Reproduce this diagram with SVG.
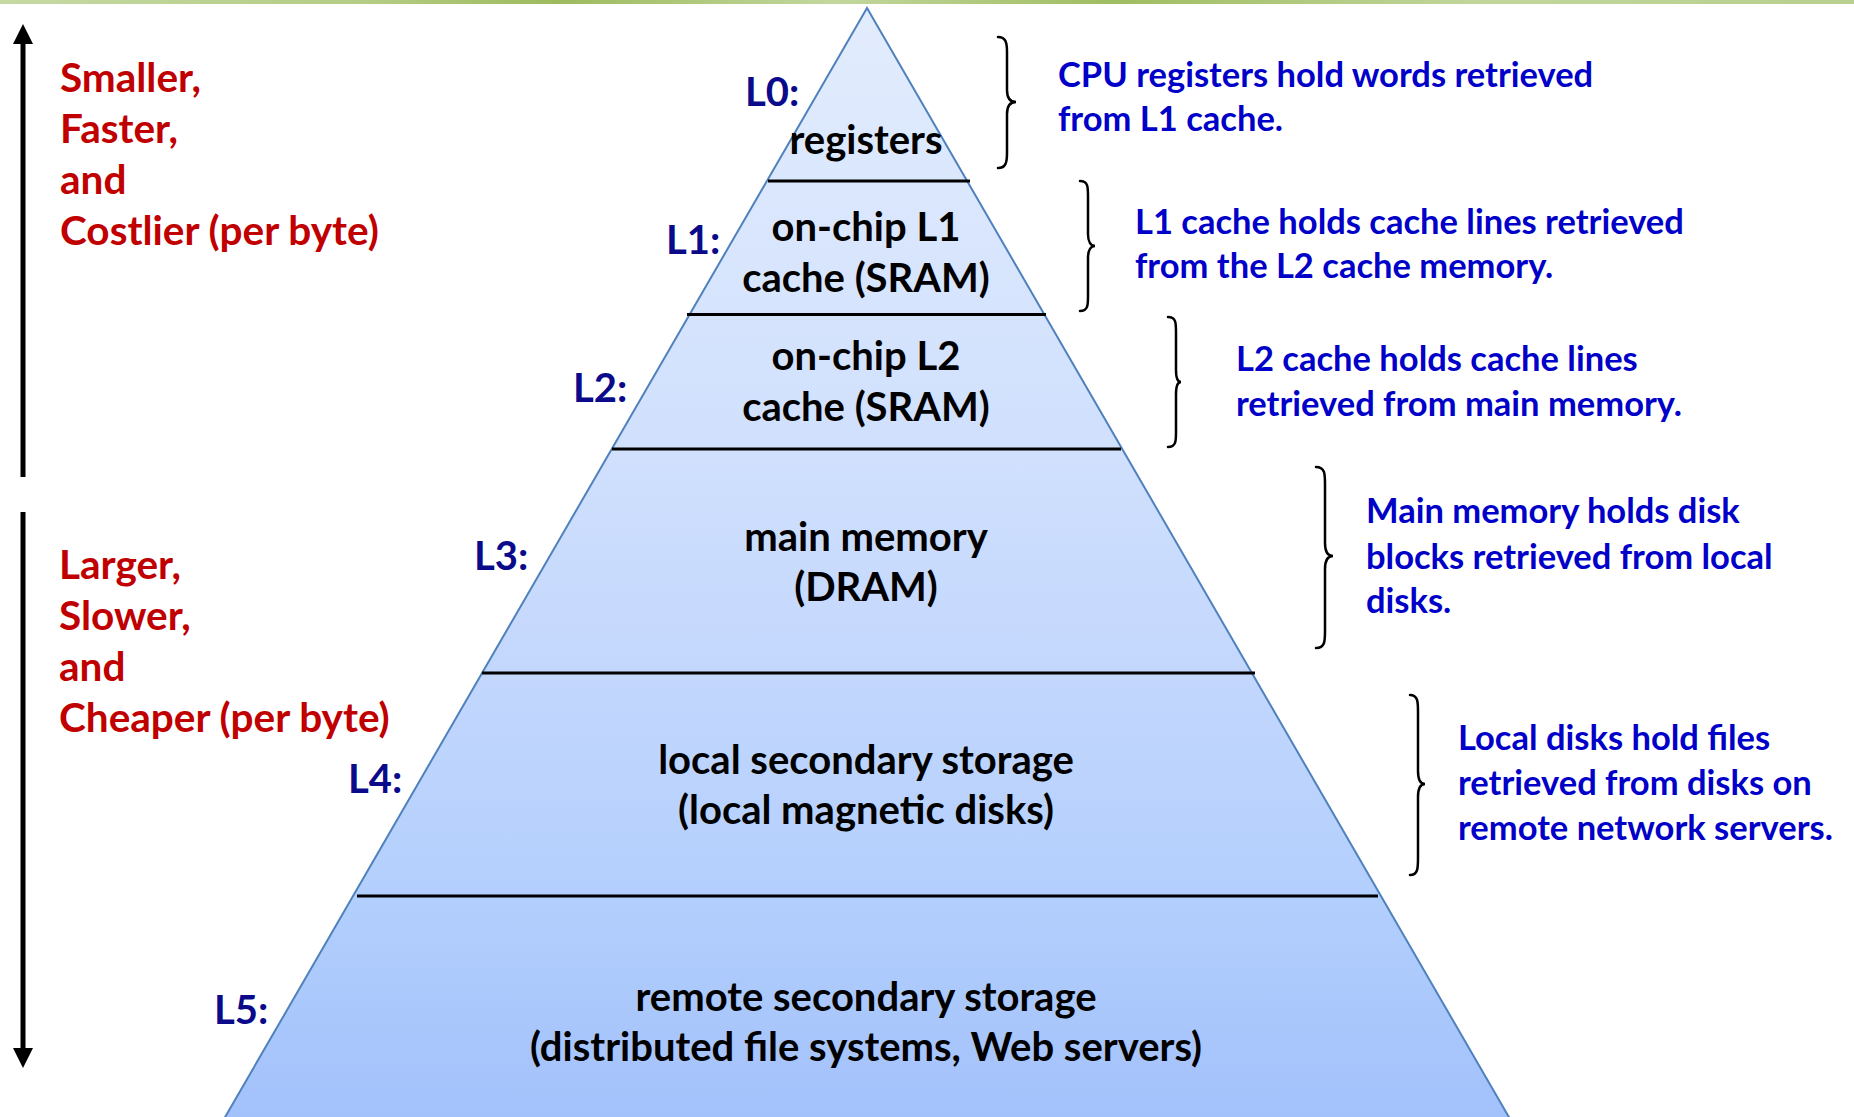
<svg xmlns="http://www.w3.org/2000/svg" width="1854" height="1117" viewBox="0 0 1854 1117">
<defs>
<linearGradient id="fillG" x1="0" y1="8" x2="0" y2="1117" gradientUnits="userSpaceOnUse">
<stop offset="0" stop-color="#e2ecfd"/>
<stop offset="0.4" stop-color="#d0e0fd"/>
<stop offset="0.6" stop-color="#c3d7fd"/>
<stop offset="0.8" stop-color="#b3cffd"/>
<stop offset="1" stop-color="#a3c1fb"/>
</linearGradient>
<linearGradient id="barG" x1="0" y1="0" x2="1854" y2="0" gradientUnits="userSpaceOnUse">
<stop offset="0" stop-color="#c6d9a4"/>
<stop offset="0.2" stop-color="#b4cc84"/>
<stop offset="0.3" stop-color="#9dbb5e"/>
<stop offset="0.45" stop-color="#c3d79e"/>
<stop offset="0.6" stop-color="#9fbd62"/>
<stop offset="0.8" stop-color="#c2d69c"/>
<stop offset="1" stop-color="#b8cf8e"/>
</linearGradient>
</defs>
<style>
.red{font-family:Lato,"Open Sans",sans-serif;font-weight:bold;font-size:40.5px;fill:#c00000}
.lv{font-family:Lato,"Open Sans",sans-serif;font-weight:bold;font-size:40px;fill:#0a0a8a}
.ct{font-family:Lato,"Open Sans",sans-serif;font-weight:bold;font-size:40px;fill:#000;text-anchor:middle}
.bl{font-family:Lato,"Open Sans",sans-serif;font-weight:bold;font-size:34.5px;fill:#0000c8}
.sep{stroke:#000;stroke-width:3}
.brace{fill:none;stroke:#000;stroke-width:2.5;stroke-linecap:round}
.shaft{stroke:#000;stroke-width:5}
.head{fill:#000}
</style>
<rect x="0" y="0" width="1854" height="1117" fill="#fff"/>
<rect x="0" y="0" width="1854" height="4" fill="url(#barG)"/>

<g id="pyramid">
<polygon points="867,8 220.5,1125 1513.5,1125" fill="url(#fillG)" stroke="#4f81bd" stroke-width="2"/>
</g>

<g id="connectors">
<line class="sep" x1="768" y1="181" x2="970" y2="181"/>
<line class="sep" x1="687" y1="314.5" x2="1046" y2="314.5"/>
<line class="sep" x1="612" y1="449" x2="1121" y2="449"/>
<line class="sep" x1="482" y1="673" x2="1255" y2="673"/>
<line class="sep" x1="357" y1="896" x2="1378" y2="896"/>
<line class="shaft" x1="23" y1="477" x2="23" y2="40"/>
<polygon class="head" points="23,24 33,44 13,44"/>
<line class="shaft" x1="23" y1="512" x2="23" y2="1052"/>
<polygon class="head" points="23,1068 33,1048 13,1048"/>
<path class="brace" d="M998,37 C1006,37 1007,43 1007,52 L1007,90 C1007,98 1010,102 1016,102 C1010,102 1007,106 1007,114 L1007,153 C1007,162 1006,168 998,168"/>
<path class="brace" d="M1080,181 C1088,181 1088,187 1088,196 L1088,234 C1088,242 1091,246 1095,246 C1091,246 1088,250 1088,258 L1088,296 C1088,305 1088,311 1080,311"/>
<path class="brace" d="M1168,317 C1176,317 1176,323 1176,332 L1176,370 C1176,378 1178,382 1181,382 C1178,382 1176,386 1176,394 L1176,432 C1176,441 1176,447 1168,447"/>
<path class="brace" d="M1316,467 C1325,467 1325,474 1325,484 L1325,543 C1325,552 1328,556 1333,556 C1328,556 1325,560 1325,569 L1325,631 C1325,641 1325,648 1316,648"/>
<path class="brace" d="M1410,695 C1418,695 1418,702 1418,712 L1418,771 C1418,780 1421,784 1425,784 C1421,784 1418,788 1418,797 L1418,858 C1418,868 1418,875 1410,875"/>
</g>

<g id="left-up">
<text class="red" x="60" y="92">Smaller,</text>
<text class="red" x="60" y="143">Faster,</text>
<text class="red" x="60" y="194">and</text>
<text class="red" x="60" y="245">Costlier (per byte)</text>
</g>
<g id="left-down">
<text class="red" x="59" y="579">Larger,</text>
<text class="red" x="59" y="630">Slower,</text>
<text class="red" x="59" y="681">and</text>
<text class="red" x="59" y="732">Cheaper (per byte)</text>
</g>

<g id="L0">
<text class="lv" x="745" y="106">L0:</text>
<text class="ct" x="866" y="154">registers</text>
<text class="bl" x="1058" y="87">CPU registers hold words retrieved</text>
<text class="bl" x="1058" y="131">from L1 cache.</text>
</g>
<g id="L1">
<text class="lv" x="666" y="254">L1:</text>
<text class="ct" x="866" y="241">on-chip L1</text>
<text class="ct" x="866" y="292">cache (SRAM)</text>
<text class="bl" x="1135" y="234">L1 cache holds cache lines retrieved</text>
<text class="bl" x="1135" y="278">from the L2 cache memory.</text>
</g>
<g id="L2">
<text class="lv" x="573" y="402">L2:</text>
<text class="ct" x="866" y="370">on-chip L2</text>
<text class="ct" x="866" y="421">cache (SRAM)</text>
<text class="bl" x="1236" y="371">L2 cache holds cache lines</text>
<text class="bl" x="1236" y="416">retrieved from main memory.</text>
</g>
<g id="L3">
<text class="lv" x="474" y="570">L3:</text>
<text class="ct" x="866" y="551">main memory</text>
<text class="ct" x="866" y="601">(DRAM)</text>
<text class="bl" x="1366" y="523">Main memory holds disk</text>
<text class="bl" x="1366" y="569">blocks retrieved from local</text>
<text class="bl" x="1366" y="613">disks.</text>
</g>
<g id="L4">
<text class="lv" x="348" y="793">L4:</text>
<text class="ct" x="866" y="774">local secondary storage</text>
<text class="ct" x="866" y="824">(local magnetic disks)</text>
<text class="bl" x="1458" y="750">Local disks hold files</text>
<text class="bl" x="1458" y="795">retrieved from disks on</text>
<text class="bl" x="1458" y="840">remote network servers.</text>
</g>
<g id="L5">
<text class="lv" x="214" y="1024">L5:</text>
<text class="ct" x="866" y="1011">remote secondary storage</text>
<text class="ct" x="866" y="1061">(distributed file systems, Web servers)</text>
</g>
</svg>
